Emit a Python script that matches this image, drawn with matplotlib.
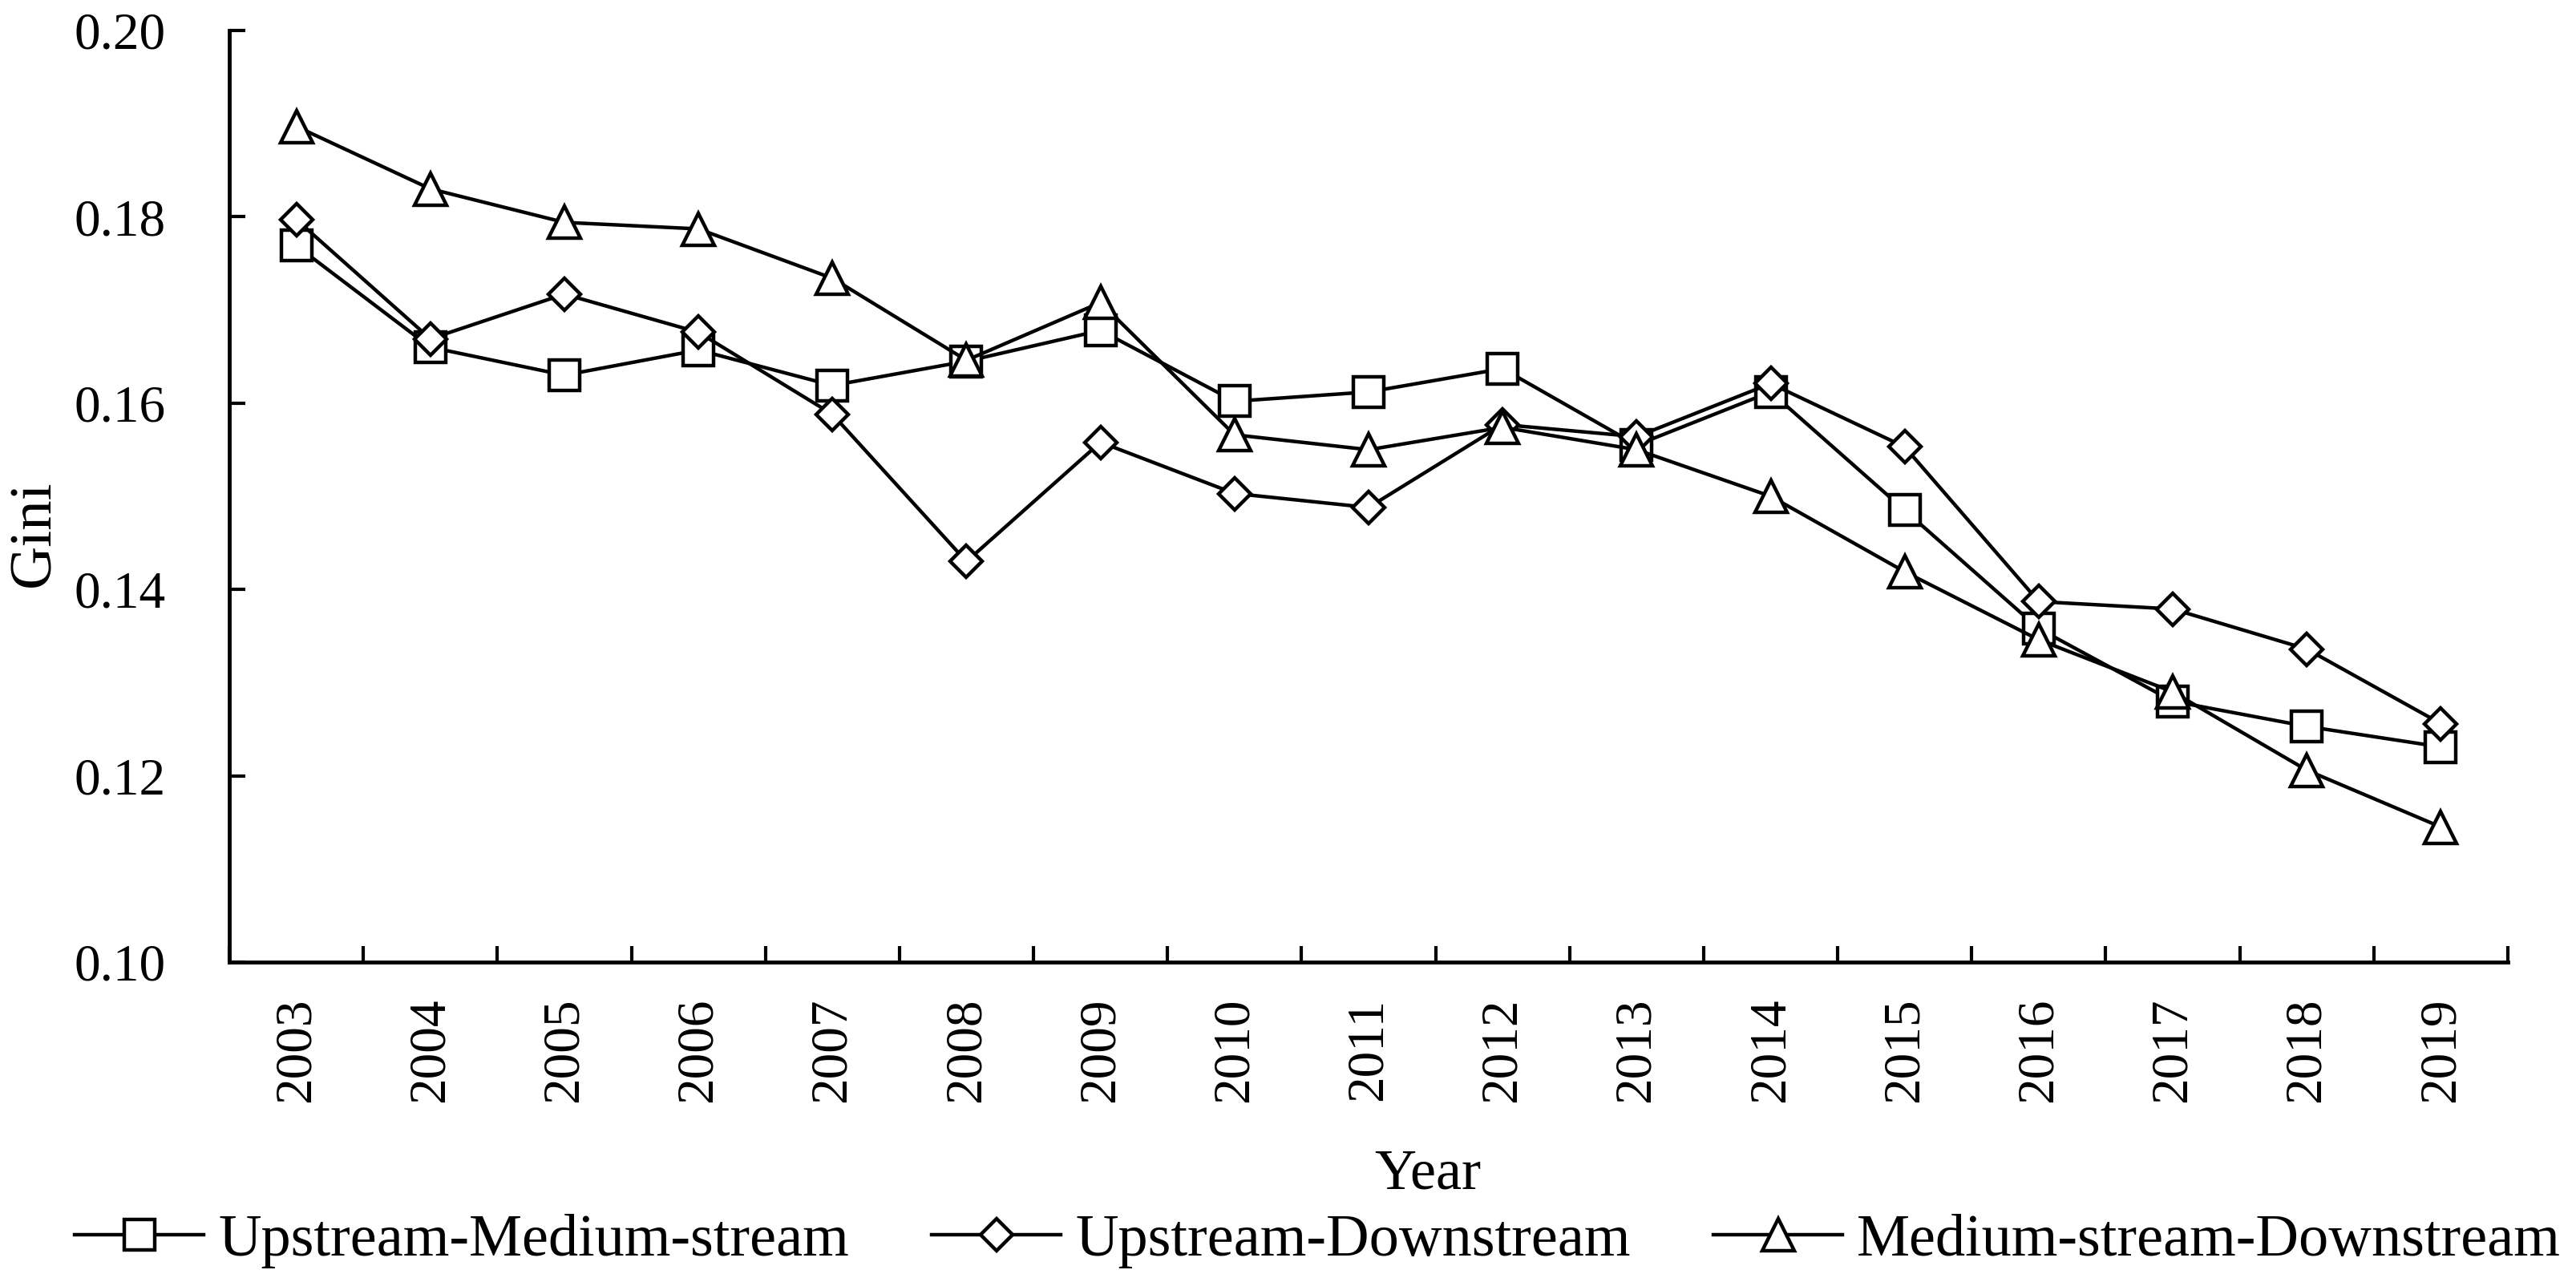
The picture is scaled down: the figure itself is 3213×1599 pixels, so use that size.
import numpy as np
import matplotlib
matplotlib.use("Agg")
import matplotlib.pyplot as plt

# Gini values
years = ["2003", "2004", "2005", "2006", "2007", "2008", "2009", "2010", "2011",
         "2012", "2013", "2014", "2015", "2016", "2017", "2018", "2019"]

up_med = [0.1769, 0.1660, 0.1630, 0.1657, 0.1619, 0.1645, 0.1678, 0.1602, 0.1612,
          0.1637, 0.1555, 0.1612, 0.1485, 0.1358, 0.1280, 0.1253, 0.1231]
up_down = [0.1797, 0.1669, 0.1717, 0.1676, 0.1588, 0.1430, 0.1558, 0.1503, 0.1488,
           0.1577, 0.1564, 0.1621, 0.1553, 0.1387, 0.1379, 0.1336, 0.1256]
med_down = [0.1897, 0.1830, 0.1794, 0.1787, 0.1734, 0.1646, 0.1708, 0.1566, 0.1550,
            0.1574, 0.1550, 0.1500, 0.1419, 0.1346, 0.1290, 0.1206, 0.1145]

series_names = ["Upstream-Medium-stream", "Upstream-Downstream", "Medium-stream-Downstream"]
y_ticks = [0.10, 0.12, 0.14, 0.16, 0.18, 0.20]

plt.rcParams['font.family'] = ['Liberation Serif', 'DejaVu Serif']

fig = plt.figure(figsize=(32.13, 15.99), dpi=100)
ax = fig.add_axes([286 / 3213, 1 - 1200 / 1599, (3128 - 286) / 3213, (1200 - 38) / 1599])

x = np.arange(len(years))
estilos = [("s", 28), ("D", 20), ("^", 29)]
for datos, nombre, (mk, ms) in zip([up_med, up_down, med_down], series_names, estilos):
    ax.plot(x, datos, color="black", linewidth=3.2, marker=mk, markersize=ms,
            markerfacecolor="white", markeredgecolor="black", markeredgewidth=3.2,
            label=nombre, clip_on=False)

ax.set_xlim(-0.5, len(years) - 0.5)
ax.set_ylim(0.10, 0.20)

ax.set_xticks(x)
ax.set_xticklabels(years, rotation=90, fontsize=47)
ax.set_xticks(np.arange(-0.5, len(years)), minor=True)
ax.tick_params(axis="x", which="major", length=0, pad=32)
ax.tick_params(axis="x", which="minor", direction="in", length=14.4, width=3)

ax.set_yticks(y_ticks)
ax.set_yticklabels([f"{v:.2f}" for v in y_ticks], fontsize=47)
ax.tick_params(axis="y", direction="in", length=14.4, width=3, pad=57)

for lado in ["top", "right"]:
    ax.spines[lado].set_visible(False)
for lado in ["left", "bottom"]:
    ax.spines[lado].set_linewidth(3.5)

ax.set_xlabel("Year", fontsize=52)
ax.xaxis.set_label_coords(0.526, -0.2005)
ax.set_ylabel("Gini", fontsize=54, va="center")
ax.yaxis.set_label_coords(-0.0852, 0.4604)

fig.legend(loc="center", bbox_to_anchor=(0.5115, 0.032), ncol=3, frameon=False,
           fontsize=53.5, handlelength=2.17, handletextpad=0.24, columnspacing=1.39,
           borderpad=0, borderaxespad=0, numpoints=1)

fig.savefig("out.png", dpi=100)
